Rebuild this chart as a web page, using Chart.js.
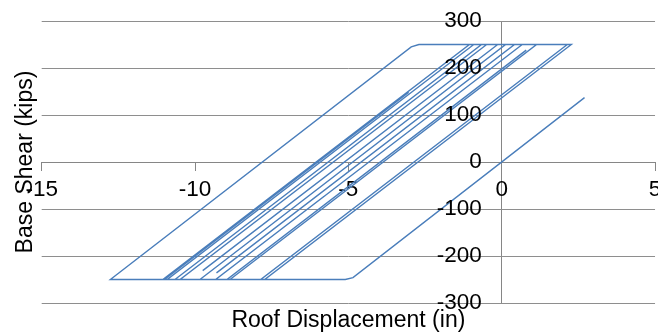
<!DOCTYPE html>
<html>
<head>
<meta charset="utf-8">
<script src="https://cdn.jsdelivr.net/npm/chart.js@4/dist/chart.umd.min.js"></script>
<style>
  html, body { margin: 0; padding: 0; background: #ffffff; overflow: hidden; }
  #wrap { position: relative; width: 668px; height: 335px; }
</style>
</head>
<body>
<div id="wrap"><canvas id="chart"></canvas></div>
<script>
// Hysteresis of the roof response: roof displacement (in) vs base shear (kips)
const roofDisp = [
  0, 2.7, -4.85, -5.1, -12.76, -2.95, -2.7, 2.27, -7.73, -8.86,
  1.14, 2.14, -7.86, -8.96, 0.8, -8.96, -9.84, 0.13, 0.42, -9.3,
  0.42, 0.67, -9.19, -5.8, -9.33, -10.655, -0.655, -0.49, -10.49, -10.91,
  -0.91, -10.91, -11.0, -3.03, -11.0, -11.05, -1.05, -0.13, -9.75
];
const baseShear = [
  0, 137, -246, -250, -250, 245, 250, 250, -250, -250,
  250, 250, -250, -250, 238, -250, -250, 250, 250, -236,
  250, 250, -243, -73.5, -250, -250, 250, 250, -250, -250,
  250, -250, -250, 148.5, -250, -250, 250, 250, -231
];
const xTicks = [-15, -10, -5, 0, 5];
const yTicks = [-300, -200, -100, 0, 100, 200, 300];

const axisColor = '#868686';
const gridColor = '#8e8e8e';
const lineColor = '#4a7ebb';
const fontFamily = "'Liberation Sans', Arial, Helvetica, sans-serif";

Chart.defaults.font.family = fontFamily;
Chart.defaults.color = '#000000';

const points = roofDisp.map((x, i) => ({ x: x, y: baseShear[i] }));

new Chart(document.getElementById('chart'), {
  type: 'scatter',
  data: {
    datasets: [{
      label: 'Hysteresis',
      data: points,
      showLine: true,
      borderColor: lineColor,
      backgroundColor: lineColor,
      borderWidth: 1.4,
      pointRadius: 0,
      pointHoverRadius: 0,
      tension: 0,
      fill: false
    }]
  },
  options: {
    responsive: true,
    maintainAspectRatio: false,
    animation: false,
    devicePixelRatio: 1,
    layout: { padding: { top: 21, left: 0, right: 0, bottom: 0 } },
    plugins: {
      legend: { display: false },
      tooltip: { enabled: false },
      title: { display: false }
    },
    scales: {
      x: {
        type: 'linear',
        position: { y: 0 },
        min: xTicks[0],
        max: xTicks[xTicks.length - 1],
        afterBuildTicks: (scale) => { scale.ticks = xTicks.map(v => ({ value: v })); },
        ticks: {
          font: { size: 22.5, lineHeight: 1.2 },
          color: '#000000',
          padding: 6.7,
          maxRotation: 0,
          autoSkip: false
        },
        grid: {
          drawOnChartArea: true,
          color: (ctx) => (ctx.tick && ctx.tick.value === 0) ? axisColor : 'rgba(0,0,0,0)',
          tickColor: axisColor,
          tickLength: 8,
          lineWidth: 1
        },
        border: { display: true, color: axisColor, width: 1 }
      },
      xTitle: {
        type: 'linear',
        axis: 'x',
        position: 'bottom',
        min: xTicks[0],
        max: xTicks[xTicks.length - 1],
        ticks: { display: false },
        grid: { display: false, drawTicks: false, tickLength: 0 },
        border: { display: false },
        title: {
          display: true,
          text: 'Roof Displacement (in)',
          color: '#000000',
          font: { size: 23, lineHeight: 1.2 },
          padding: { top: 3.5, bottom: 0.9 }
        }
      },
      y: {
        type: 'linear',
        position: { x: -0.65 },
        min: yTicks[0],
        max: yTicks[yTicks.length - 1],
        afterBuildTicks: (scale) => { scale.ticks = yTicks.map(v => ({ value: v })); },
        ticks: {
          font: { size: 22.5, lineHeight: 1.2 },
          color: '#000000',
          z: 1,
          autoSkip: false
        },
        grid: {
          color: gridColor,
          drawTicks: false,
          tickLength: 0,
          lineWidth: 1
        },
        border: { display: false }
      },
      yTitle: {
        type: 'linear',
        axis: 'y',
        position: 'left',
        min: yTicks[0],
        max: yTicks[yTicks.length - 1],
        ticks: { display: false },
        grid: { display: false, drawTicks: false, tickLength: 0 },
        border: { display: false },
        title: {
          display: true,
          text: 'Base Shear (kips)',
          color: '#000000',
          font: { size: 23, lineHeight: 1.2 },
          padding: { top: 11.5, bottom: 2.6 }
        }
      }
    }
  }
});
</script>
</body>
</html>
